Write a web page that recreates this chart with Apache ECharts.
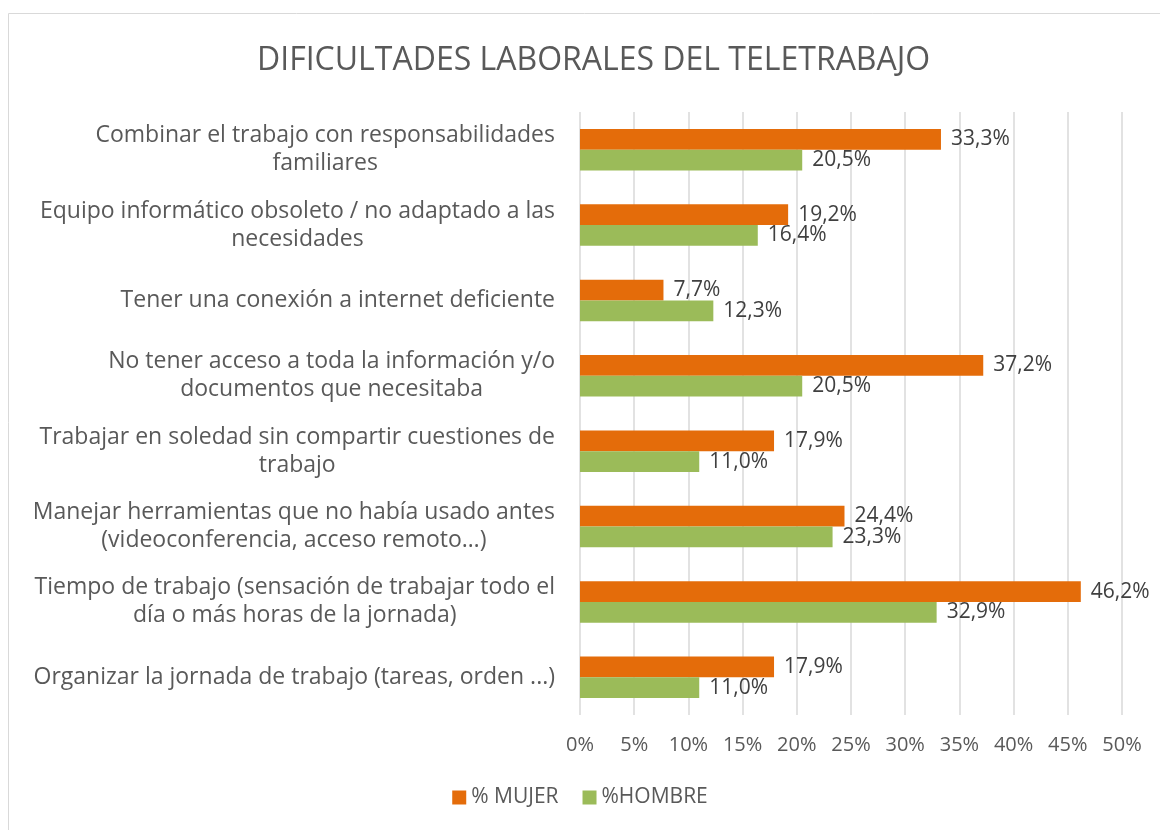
<!DOCTYPE html>
<html lang="es">
<head>
<meta charset="UTF-8">
<title>Dificultades laborales del teletrabajo</title>
<style>
    html, body { margin: 0; padding: 0; background: #fff; }
    #chart { width: 1160px; height: 830px; }
</style>
</head>
<body>
<div id="chart"></div>
<script src="https://cdn.jsdelivr.net/npm/echarts@6/dist/echarts.min.js"></script>
<script>
    // categories, top to bottom as in the picture
    var categories = [
        'Combinar el trabajo con responsabilidades\nfamiliares',
        'Equipo informático obsoleto / no adaptado a las\nnecesidades',
        'Tener una conexión a internet deficiente',
        'No tener acceso a toda la información y/o\ndocumentos que necesitaba',
        'Trabajar en soledad sin compartir cuestiones de\ntrabajo',
        'Manejar herramientas que no había usado antes\n(videoconferencia, acceso remoto…)',
        'Tiempo de trabajo (sensación de trabajar todo el\ndía o más horas de la jornada)',
        'Organizar la jornada de trabajo (tareas, orden ...)'
    ];
    var mujer = [33.3, 19.2, 7.7, 37.2, 17.9, 24.4, 46.2, 17.9];
    var hombre = [20.5, 16.4, 12.3, 20.5, 11.0, 23.3, 32.9, 11.0];
    var seriesNames = ['% MUJER', '%HOMBRE'];

    var font = 'Open Sans';
    function pct(v) { return v.toFixed(1).replace('.', ',') + '%'; }

    var myChart = echarts.init(document.getElementById('chart'));
    var option = {
        animation: false,
        textStyle: { fontFamily: font },
        title: {
            text: 'DIFICULTADES LABORALES DEL TELETRABAJO',
            left: 252,
            top: 40,
            textStyle: { fontFamily: font, fontSize: 32, fontWeight: 'normal', color: '#595959' }
        },
        graphic: [{
            type: 'rect',
            shape: { x: 8.5, y: 13.5, width: 1160, height: 830 },
            style: { fill: 'none', stroke: '#d9d9d9', lineWidth: 1 },
            silent: true
        }],
        legend: {
            bottom: 17,
            left: 'center',
            itemWidth: 14,
            itemHeight: 14,
            itemGap: 24,
            icon: 'rect',
            textStyle: { fontFamily: font, fontSize: 21, color: '#595959' },
            data: seriesNames
        },
        grid: { left: 580, right: 38, top: 112, bottom: 115 },
        xAxis: {
            type: 'value',
            min: 0,
            max: 50,
            interval: 5,
            axisLine: { show: false },
            axisTick: { show: false },
            splitLine: { lineStyle: { color: '#d9d9d9', width: 1.5 } },
            axisLabel: {
                formatter: '{value}%',
                fontFamily: font, fontSize: 20, color: '#595959', margin: 20
            }
        },
        yAxis: {
            type: 'category',
            inverse: true,
            data: categories,
            axisLine: { show: false },
            axisTick: { show: false },
            axisLabel: {
                align: 'right',
                margin: 25,
                formatter: function (v) {
                    return v.split('\n').map(function (s) { return '{c|' + s + '}'; }).join('\n');
                },
                rich: {
                    c: {
                        fontFamily: font, fontSize: 23, color: '#595959',
                        lineHeight: 28, align: 'center'
                    }
                }
            }
        },
        series: [{
            name: seriesNames[0],
            type: 'bar',
            data: mujer,
            barGap: '0%',
            barCategoryGap: '45%',
            itemStyle: { color: '#E46C0A' },
            label: {
                show: true, position: 'right', distance: 10,
                fontFamily: font, fontSize: 21, color: '#404040',
                formatter: function (p) { return pct(p.value); }
            }
        }, {
            name: seriesNames[1],
            type: 'bar',
            data: hombre,
            barGap: '0%',
            barCategoryGap: '45%',
            itemStyle: { color: '#9BBB59' },
            label: {
                show: true, position: 'right', distance: 10,
                fontFamily: font, fontSize: 21, color: '#404040',
                formatter: function (p) { return pct(p.value); }
            }
        }]
    };
    myChart.setOption(option);
</script>
</body>
</html>
